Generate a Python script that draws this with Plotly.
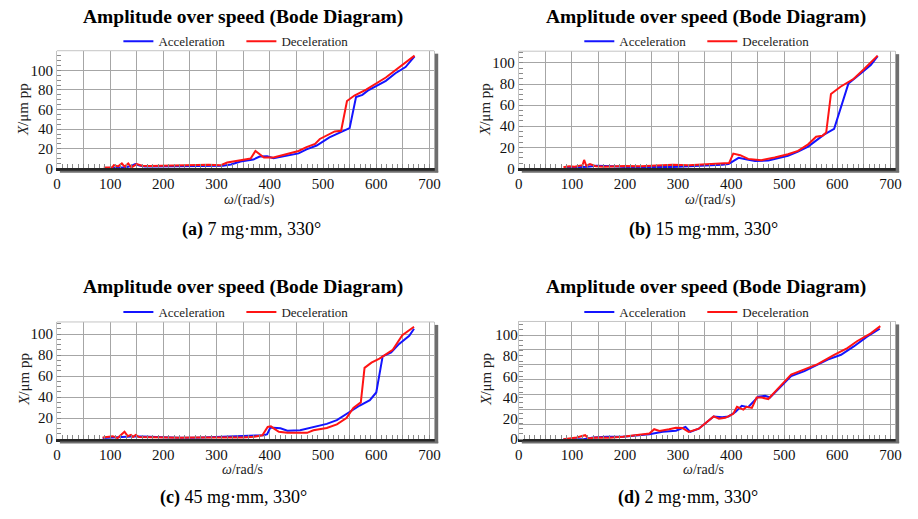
import plotly.graph_objects as go

W, H = 918, 519
SERIF = "Liberation Serif"
BLUE = "rgb(20,20,255)"
RED = "rgb(255,20,20)"

# ---------- (a) 7 mg·mm, 330° ----------
a_acc_w = [95, 110, 120, 130, 141, 147, 155, 165, 180, 200, 220, 240, 260, 280, 300, 312,
           327, 345, 357, 369, 381, 395, 407, 432, 454, 469, 488, 512, 531, 550, 562, 574,
           584, 618, 636, 655, 672]
a_acc_x = [0.5, 0.8, 1.0, 1.2, 2.7, 4.3, 3.0, 2.0, 1.8, 2.0, 2.2, 2.0, 2.2, 2.5, 2.5, 2.7,
           4.0, 7.0, 8.0, 9.0, 12.0, 12.3, 10.3, 12.7, 15.3, 19.3, 23.3, 31.7, 36.0, 41.0, 72.7, 75.0,
           79.3, 89.3, 97.0, 103.3, 114.3]
a_dec_w = [88, 104, 107, 115, 122, 127, 134, 140, 150, 160, 175, 200, 225, 250, 265, 285, 308,
           320, 345, 364, 373, 379, 389, 407, 432, 454, 469, 485, 494, 506, 522, 534, 545,
           559, 581, 618, 649, 672]
a_dec_x = [1.0, 1.0, 3.3, 2.0, 5.0, 1.7, 5.0, 1.0, 4.3, 2.7, 2.5, 2.8, 3.0, 3.5, 4.0, 3.8, 3.3,
           6.0, 8.3, 10.0, 17.7, 15.0, 11.0, 11.0, 14.3, 17.7, 21.7, 25.0, 30.0, 33.3, 37.7, 38.3, 68.7,
           74.3, 80.3, 92.7, 106.0, 115.0]

# ---------- (b) 15 mg·mm, 330° ----------
b_acc_w = [90, 110, 130, 146, 159, 177, 200, 230, 260, 290, 320, 358, 383, 395, 414, 430,
           445, 470, 489, 507, 526, 545, 563, 575, 594, 621, 644, 663, 676]
b_acc_x = [0.6, 1.0, 1.5, 2.5, 2.5, 2.0, 1.2, 1.0, 1.0, 1.2, 2.0, 2.5, 3.4, 4.0, 10.0, 8.5,
           7.0, 7.5, 9.5, 12.0, 16.0, 20.6, 27.5, 32.0, 37.5, 80.6, 90.0, 98.0, 106.6]
b_dec_w = [84, 95, 105, 115, 120, 123, 127, 134, 145, 160, 180, 200, 230, 258, 290, 320, 358,
           396, 404, 417, 432, 457, 482, 507, 526, 545, 560, 572, 579, 588, 606, 631, 650, 676]
b_dec_x = [1.0, 2.0, 1.5, 2.5, 3.0, 8.0, 2.5, 4.0, 2.0, 1.5, 2.0, 2.2, 2.0, 2.5, 3.4, 3.0, 4.0,
           5.0, 14.0, 12.5, 9.0, 7.8, 10.3, 13.4, 16.6, 22.8, 30.0, 31.0, 34.0, 70.6, 77.5, 85.0, 94.0, 107.0]

# ---------- (c) 45 mg·mm, 330° ----------
c_acc_w = [86, 100, 120, 140, 160, 180, 200, 230, 260, 303, 334, 358, 389, 395, 401, 420,
           433, 457, 489, 507, 526, 544, 557, 569, 588, 600, 612, 628, 643, 662, 671]
c_acc_x = [1.0, 1.5, 2.0, 2.5, 2.5, 2.0, 1.5, 1.2, 1.2, 2.2, 2.8, 3.0, 3.7, 4.7, 11.0, 10.3,
           8.0, 8.4, 12.0, 14.5, 18.0, 24.0, 28.0, 32.0, 37.0, 44.4, 78.7, 82.5, 90.6, 98.4, 105.0]
c_dec_w = [86, 105, 114, 124, 127, 133, 139, 143, 148, 154, 165, 180, 200, 230, 260, 290, 320,
           350, 371, 386, 396, 402, 408, 417, 433, 457, 470, 482, 507, 526, 544, 557, 571,
           578, 591, 606, 631, 649, 671]
c_dec_x = [1.5, 2.8, 1.0, 5.3, 7.0, 2.8, 4.0, 2.0, 4.0, 2.0, 1.8, 1.8, 1.5, 1.2, 1.5, 1.5, 1.0,
           1.5, 2.2, 3.7, 11.6, 12.2, 10.0, 7.0, 6.1, 6.1, 6.0, 8.4, 10.6, 14.0, 20.0, 29.7, 35.0,
           67.8, 72.8, 76.6, 85.0, 99.0, 107.0]

# ---------- (d) 2 mg·mm, 330° ----------
d_acc_w = [84, 100, 122, 140, 165, 196, 221, 246, 271, 296, 314, 323, 339, 352, 367, 383, 395,
           408, 420, 432, 451, 464, 473, 489, 513, 538, 563, 582, 607, 631, 656, 680]
d_acc_x = [0.0, 0.0, 0.0, 1.6, 2.2, 2.2, 3.5, 4.7, 7.0, 8.0, 11.7, 7.0, 10.0, 15.5, 21.8, 21.0, 21.8,
           26.0, 32.0, 30.6, 40.7, 41.6, 40.0, 48.0, 60.5, 65.3, 71.6, 76.3, 81.0, 89.0, 98.4, 106.0]
d_dec_w = [84, 109, 125, 131, 146, 171, 196, 221, 246, 255, 265, 283, 296, 308, 320, 339, 352,
           367, 377, 389, 404, 411, 423, 429, 439, 448, 457, 470, 489, 513, 538, 563, 594,
           619, 637, 663, 681]
d_dec_x = [0.0, 1.6, 3.8, 0.6, 1.6, 1.3, 2.2, 3.8, 5.4, 9.5, 7.9, 9.5, 11.0, 10.7, 7.0, 10.0, 15.5,
           21.8, 19.6, 20.5, 24.3, 31.0, 28.4, 31.0, 30.0, 40.0, 40.0, 38.5, 49.0, 62.0, 67.0, 72.0, 81.0,
           87.4, 94.0, 101.6, 108.5]

x_ticks = list(range(0, 701, 50))
x_tick_text = [str(v) if v % 100 == 0 else "" for v in x_ticks]
y_ticks = list(range(0, 101, 20))

TITLE = "Amplitude over speed (Bode Diagram)"

# box = (left, top, right, bottom) of each plotting area in pixels
panels = [
    dict(acc=(a_acc_w, a_acc_x), dec=(a_dec_w, a_dec_x), box=(53.5, 51.5, 435, 171), ymax=120,
         title_xy=(242, 17), legend_xy=(240, 42), xlab="<i>ω</i>/(rad/s)", xlab_xy=(248, 203),
         ylab_xy=(20, 111), caption="<b>(a)</b> 7 mg·mm, 330°", cap_xy=(250, 233)),
    dict(acc=(b_acc_w, b_acc_x), dec=(b_dec_w, b_dec_x), box=(520.5, 52, 901, 171), ymax=111.2,
         title_xy=(710, 17), legend_xy=(706, 42), xlab="<i>ω</i>/(rad/s)", xlab_xy=(714, 203),
         ylab_xy=(487, 111), caption="<b>(b)</b> 15 mg·mm, 330°", cap_xy=(707, 233)),
    dict(acc=(c_acc_w, c_acc_x), dec=(c_dec_w, c_dec_x), box=(53.5, 327, 435, 446), ymax=111.5,
         title_xy=(242, 292), legend_xy=(240, 317), xlab="<i>ω</i>/rad/s", xlab_xy=(241, 477),
         ylab_xy=(20, 385), caption="<b>(c)</b> 45 mg·mm, 330°", cap_xy=(232, 505)),
    dict(acc=(d_acc_w, d_acc_x), dec=(d_dec_w, d_dec_x), box=(520.5, 326.5, 901, 446), ymax=113,
         title_xy=(710, 292), legend_xy=(706, 317), xlab="<i>ω</i>/rad/s", xlab_xy=(707, 477),
         ylab_xy=(487, 385), caption="<b>(d)</b> 2 mg·mm, 330°", cap_xy=(692, 505)),
]


def px(x):
    return x / W


def py(y):
    return 1 - y / H


TICKFONT = dict(family=SERIF, size=15, color="#111")

fig = go.Figure()
annotations = []
shapes = []
layout = {}

for i, p in enumerate(panels, start=1):
    sfx = "" if i == 1 else str(i)
    leg = "legend" if i == 1 else f"legend{i}"
    l, t, r, b = p["box"]

    fig.add_trace(go.Scatter(x=p["acc"][0], y=p["acc"][1], mode="lines", name="Acceleration",
                             line=dict(color=BLUE, width=2), xaxis=f"x{sfx}", yaxis=f"y{sfx}",
                             legend=leg))
    fig.add_trace(go.Scatter(x=p["dec"][0], y=p["dec"][1], mode="lines", name="Deceleration",
                             line=dict(color=RED, width=2), xaxis=f"x{sfx}", yaxis=f"y{sfx}",
                             legend=leg))

    layout[f"xaxis{sfx}"] = dict(
        domain=[px(l), px(r)], anchor=f"y{sfx}", range=[0, 709],
        tickmode="array", tickvals=x_ticks, ticktext=x_tick_text,
        ticks="inside", ticklen=4, tickcolor="#8a8a8a",
        minor=dict(dtick=10, tick0=0, ticks="inside", ticklen=4, tickcolor="#8a8a8a", showgrid=False),
        showgrid=True, gridcolor="#a6a6a6", gridwidth=1, zeroline=False,
        showline=True, linecolor="#262626", linewidth=3,
        tickfont=TICKFONT, fixedrange=True,
    )

    if i < 4:
        layout[f"yaxis{sfx}"] = dict(
            domain=[py(b), py(t)], anchor=f"x{sfx}", range=[0, p["ymax"]],
            tickmode="array", tickvals=y_ticks,
            ticks="inside", ticklen=4, tickcolor="#8a8a8a",
            minor=dict(dtick=5, tick0=0, ticks="inside", ticklen=4, tickcolor="#8a8a8a", showgrid=False),
            showgrid=True, gridcolor="#a6a6a6", gridwidth=1, zeroline=False,
            showline=True, mirror=True, linecolor="#c4c4c4", linewidth=1,
            tickfont=TICKFONT, fixedrange=True,
        )
    else:
        # grid of this panel runs in sevenths of 100, labels in steps of 20
        grid_vals = [k * 100 / 7 for k in range(8)]
        layout["yaxis4"] = dict(
            domain=[py(b), py(t)], anchor="x4", range=[0, p["ymax"]],
            tickmode="array", tickvals=grid_vals, ticktext=[""] * len(grid_vals),
            ticks="", showgrid=True, gridcolor="#a6a6a6", gridwidth=1, zeroline=False,
            minor=dict(dtick=5, tick0=0, ticks="inside", ticklen=4, tickcolor="#8a8a8a", showgrid=False),
            showline=True, mirror=True, linecolor="#c4c4c4", linewidth=1,
            tickfont=TICKFONT, fixedrange=True,
        )
        layout["yaxis5"] = dict(
            overlaying="y4", anchor="x4", side="left", range=[0, p["ymax"]],
            tickmode="array", tickvals=y_ticks, ticks="", showgrid=False, zeroline=False,
            showline=False, tickfont=TICKFONT, fixedrange=True,
        )
        fig.add_trace(go.Scatter(x=[], y=[], xaxis="x4", yaxis="y5", showlegend=False,
                                 hoverinfo="skip"))

    lx, ly = p["legend_xy"]
    layout[leg] = dict(
        orientation="h", x=px(lx), y=py(ly), xanchor="center", yanchor="middle",
        font=dict(family=SERIF, size=13, color="#222"), bgcolor="rgba(0,0,0,0)",
        entrywidth=78, entrywidthmode="pixels", tracegroupgap=0,
    )

    # frame top edge and drop shadow on the right and bottom
    shapes.append(dict(type="line", xref="paper", yref="paper", x0=px(l), x1=px(r),
                       y0=py(t), y1=py(t), line=dict(color="#c4c4c4", width=1)))
    shapes.append(dict(type="rect", xref="paper", yref="paper", x0=px(r + 0.5), x1=px(r + 4),
                       y0=py(b + 4), y1=py(t + 3), fillcolor="#6e6e6e", line=dict(width=0)))
    shapes.append(dict(type="rect", xref="paper", yref="paper", x0=px(l + 3), x1=px(r + 4),
                       y0=py(b + 4.5), y1=py(b + 2.5), fillcolor="#6e6e6e", line=dict(width=0)))

    tx, ty = p["title_xy"]
    annotations.append(dict(text=f"<b>{TITLE}</b>", x=px(tx), y=py(ty), xref="paper", yref="paper",
                            showarrow=False, xanchor="center", yanchor="middle",
                            font=dict(family=SERIF, size=19.5, color="#000")))
    ax_, ay_ = p["xlab_xy"]
    annotations.append(dict(text=p["xlab"], x=px(ax_), y=py(ay_), xref="paper", yref="paper",
                            showarrow=False, xanchor="center", yanchor="middle",
                            font=dict(family=SERIF, size=14, color="#222")))
    yx, yy = p["ylab_xy"]
    annotations.append(dict(text="<i>X</i>/μm pp", x=px(yx), y=py(yy), xref="paper", yref="paper",
                            showarrow=False, xanchor="center", yanchor="middle", textangle=-90,
                            font=dict(family=SERIF, size=15, color="#222")))
    cx, cy = p["cap_xy"]
    annotations.append(dict(text=p["caption"], x=px(cx), y=py(cy), xref="paper", yref="paper",
                            showarrow=False, xanchor="center", yanchor="middle",
                            font=dict(family=SERIF, size=18, color="#000")))

fig.update_layout(
    width=W, height=H, margin=dict(l=0, r=0, t=0, b=0),
    paper_bgcolor="white", plot_bgcolor="white",
    font=dict(family=SERIF, size=15, color="#111"),
    annotations=annotations, shapes=shapes,
    **layout,
)

fig.write_html("out.html")
